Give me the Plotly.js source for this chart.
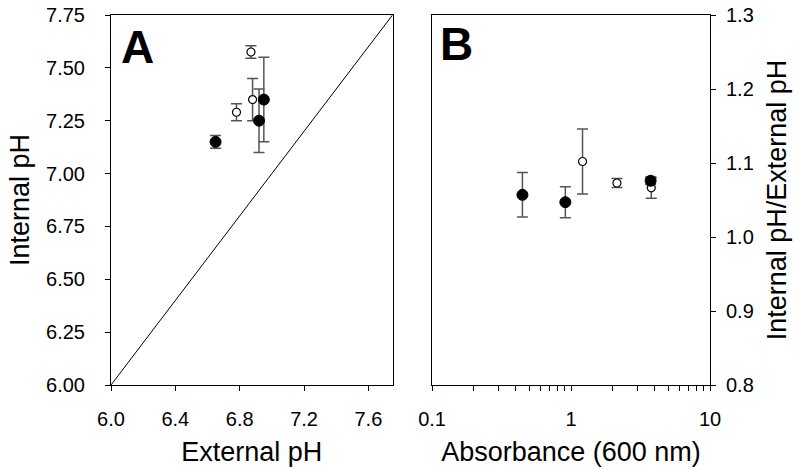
<!DOCTYPE html>
<html>
<head>
<meta charset="utf-8">
<script src="https://cdn.plot.ly/plotly-3.0.1.min.js"></script>
<style>html,body{margin:0;padding:0;background:#fff;}#chart{width:800px;height:470px;}</style>
</head>
<body>
<div id="chart"></div>
<script>
// Panel A: internal vs external pH
const aFilledExt = [6.65, 6.92, 6.95];
const aFilledInt = [7.15, 7.25, 7.35];
const aFilledErr = [0.03, 0.15, 0.20];
const aOpenExt = [6.78, 6.87, 6.88];
const aOpenInt = [7.29, 7.575, 7.35];
const aOpenErr = [0.04, 0.03, 0.10];
const identityLine = [6.0, 7.75];
const aXTicks = [6.0, 6.4, 6.8, 7.2, 7.6];
const aYTicks = [6.00, 6.25, 6.50, 6.75, 7.00, 7.25, 7.50, 7.75];

// Panel B: ratio vs absorbance
const bFilledAbs = [0.447, 0.91, 3.74];
const bFilledRatio = [1.057, 1.047, 1.076];
const bFilledErr = [0.030, 0.021, 0.005];
const bOpenAbs = [1.21, 2.14, 3.78];
const bOpenRatio = [1.102, 1.073, 1.0665];
const bOpenErr = [0.044, 0.006, 0.014];
const bXTicks = [0.1,0.2,0.3,0.4,0.5,0.6,0.7,0.8,0.9,1,2,3,4,5,6,7,8,9,10];
const bXTickText = ["0.1","","","","","","","","","1","","","","","","","","","10"];
const bYTicks = [0.8, 0.9, 1.0, 1.1, 1.2, 1.3];

const FONT = "Liberation Sans, Arial, sans-serif";
const errStyle = {color: "#555", thickness: 1.5, width: 5.5};

function errBar(arr){ return Object.assign({type: "data", array: arr, visible: true}, errStyle); }

const filledMarker = {symbol: "circle", size: 11, color: "#000", line: {color: "#000", width: 1}};
const openMarker = {symbol: "circle", size: 8, color: "#fff", line: {color: "#000", width: 1.2}};

const traces = [
  {x: identityLine, y: identityLine, mode: "lines", line: {color: "#000", width: 1}, xaxis: "x", yaxis: "y", hoverinfo: "skip"},
  {x: aOpenExt, y: aOpenInt, mode: "markers", marker: openMarker, error_y: errBar(aOpenErr), xaxis: "x", yaxis: "y"},
  {x: aFilledExt, y: aFilledInt, mode: "markers", marker: filledMarker, error_y: errBar(aFilledErr), xaxis: "x", yaxis: "y"},
  {x: bOpenAbs, y: bOpenRatio, mode: "markers", marker: openMarker, error_y: errBar(bOpenErr), xaxis: "x2", yaxis: "y2"},
  {x: bFilledAbs, y: bFilledRatio, mode: "markers", marker: filledMarker, error_y: errBar(bFilledErr), xaxis: "x2", yaxis: "y2"}
];

const axBase = {
  showline: true, linecolor: "#000", linewidth: 1, mirror: true,
  ticks: "outside", ticklen: 5, tickwidth: 1, tickcolor: "#000",
  showgrid: false, zeroline: false,
  tickfont: {family: FONT, size: 20, color: "#000"}
};
const titleFont = {family: FONT, size: 27, color: "#000"};

const layout = {
  width: 800, height: 470,
  margin: {l: 111, r: 89.5, t: 15, b: 84.5},
  paper_bgcolor: "#fff", plot_bgcolor: "#fff",
  showlegend: false,
  font: {family: FONT, color: "#000"},
  xaxis: Object.assign({}, axBase, {
    domain: [0, 0.47], range: [6.0, 7.75],
    tickmode: "array", tickvals: aXTicks, ticktext: aXTicks.map(v => v.toFixed(1)),
    ticklabelstandoff: 11,
    anchor: "y",
    title: {text: "External pH", font: titleFont, standoff: 13}
  }),
  yaxis: Object.assign({}, axBase, {
    domain: [0, 1], range: [6.0, 7.75],
    tickmode: "array", tickvals: aYTicks, ticktext: aYTicks.map(v => v.toFixed(2)),
    ticklabelstandoff: 16,
    anchor: "x",
    title: {text: "Internal pH", font: titleFont, standoff: 8}
  }),
  xaxis2: Object.assign({}, axBase, {
    domain: [0.536, 1], type: "log", range: [-1, 1],
    tickmode: "array", tickvals: bXTicks, ticktext: bXTickText,
    ticklabelstandoff: 11,
    anchor: "y2",
    title: {text: "Absorbance (600 nm)", font: titleFont, standoff: 13}
  }),
  yaxis2: Object.assign({}, axBase, {
    domain: [0, 1], range: [0.8, 1.3], side: "right",
    tickmode: "array", tickvals: bYTicks, ticktext: bYTicks.map(v => v.toFixed(1)),
    ticklabelstandoff: 6,
    anchor: "x2",
    title: {text: "Internal pH/External pH", font: titleFont, standoff: 14}
  }),
  annotations: [
    {text: "<b>A</b>", xref: "paper", yref: "paper", x: 0.014, y: 0.99, xanchor: "left", yanchor: "top", showarrow: false, font: {family: FONT, size: 46, color: "#000"}},
    {text: "<b>B</b>", xref: "paper", yref: "paper", x: 0.546, y: 0.998, xanchor: "left", yanchor: "top", showarrow: false, font: {family: FONT, size: 46, color: "#000"}}
  ]
};

Plotly.newPlot("chart", traces, layout, {staticPlot: true, displayModeBar: false});
</script>
</body>
</html>
